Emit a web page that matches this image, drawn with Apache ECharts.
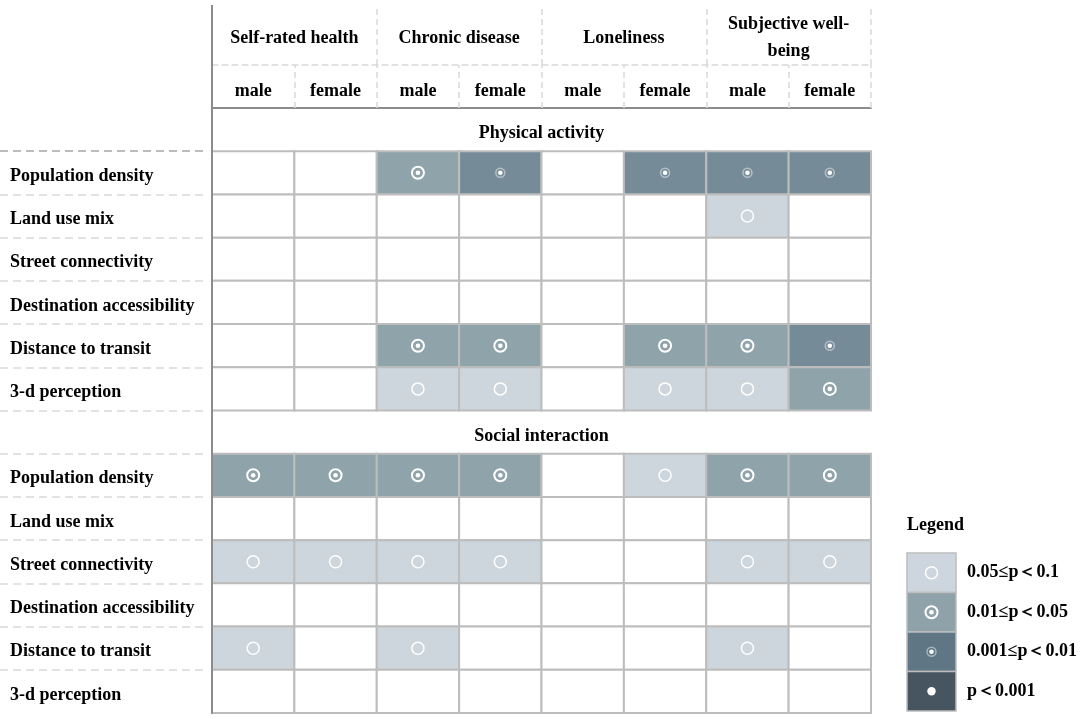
<!DOCTYPE html>
<html>
<head>
<meta charset="UTF-8">
<title>Built environment and health by gender</title>
<script src="https://cdn.jsdelivr.net/npm/echarts/dist/echarts.min.js"></script>
<style>
  html, body { margin: 0; padding: 0; background: #fff; }
  #main { width: 1084px; height: 719px; }
</style>
</head>
<body>
<div id="main"></div>
<script type="text/javascript">
// columns of the table (gender within each outcome)
var columns = ['male', 'female', 'male', 'female', 'male', 'female', 'male', 'female'];
var outcomes = ['Self-rated health', 'Chronic disease', 'Loneliness', 'Subjective well-\nbeing'];
var bands = ['Physical activity', 'Social interaction'];
var factors = ['Population density', 'Land use mix', 'Street connectivity',
  'Destination accessibility', 'Distance to transit', '3-d perception'];

// significance level per cell: 0 none, 1 0.05-0.1, 2 0.01-0.05, 3 0.001-0.01, 4 <0.001
var physical = [
  [0, 0, 2, 3, 0, 3, 3, 3],
  [0, 0, 0, 0, 0, 0, 1, 0],
  [0, 0, 0, 0, 0, 0, 0, 0],
  [0, 0, 0, 0, 0, 0, 0, 0],
  [0, 0, 2, 2, 0, 2, 2, 3],
  [0, 0, 1, 1, 0, 1, 1, 2]
];
var social = [
  [2, 2, 2, 2, 0, 1, 2, 2],
  [0, 0, 0, 0, 0, 0, 0, 0],
  [1, 1, 1, 1, 0, 0, 1, 1],
  [0, 0, 0, 0, 0, 0, 0, 0],
  [1, 0, 1, 0, 0, 0, 1, 0],
  [0, 0, 0, 0, 0, 0, 0, 0]
];
var legendLabels = ['0.05≤p＜0.1', '0.01≤p＜0.05', '0.001≤p＜0.01', 'p＜0.001'];
var legendLevels = [1, 2, 3, 4];

var cellColors = ['#ffffff', '#cdd6dd', '#8fa3aa', '#768b98', '#46555f'];
var legendColors = ['#ffffff', '#cdd6de', '#8fa2a9', '#5f7684', '#46555f'];
var FONT = '"Liberation Serif", "Times New Roman", serif';

// rows of the table: band header then the six factors, twice
var rows = [''].concat(factors, [''], factors);

var cells = [];
[physical, social].forEach(function (block, b) {
  block.forEach(function (row, r) {
    row.forEach(function (lv, c) {
      cells.push([c, b * (factors.length + 1) + r + 1, lv]);
    });
  });
});
var bandRows = bands.map(function (name, b) { return [0, b * (factors.length + 1)]; });
var legendData = legendLevels.map(function (lv, i) { return [0, i, lv]; });

function marker(lv, x, y) {
  if (lv === 1) {
    return [{ type: 'circle', shape: { cx: x, cy: y, r: 6 }, style: { fill: 'none', stroke: '#fff', lineWidth: 1.5 } }];
  }
  if (lv === 2) {
    return [
      { type: 'circle', shape: { cx: x, cy: y, r: 6 }, style: { fill: 'none', stroke: '#fff', lineWidth: 2 } },
      { type: 'circle', shape: { cx: x, cy: y, r: 2.3 }, style: { fill: '#fff' } }
    ];
  }
  if (lv === 3) {
    return [
      { type: 'circle', shape: { cx: x, cy: y, r: 4.5 }, style: { fill: 'none', stroke: 'rgba(255,255,255,0.45)', lineWidth: 1.5 } },
      { type: 'circle', shape: { cx: x, cy: y, r: 2.3 }, style: { fill: '#fff' } }
    ];
  }
  if (lv === 4) {
    return [{ type: 'circle', shape: { cx: x, cy: y, r: 4.2 }, style: { fill: '#fff' } }];
  }
  return [];
}

function cellRenderer(colors, lineWidth) {
  return function (params, api) {
    var p = api.coord([api.value(0), api.value(1)]);
    var s = api.size([1, 1]);
    var lv = api.value(2);
    var rect = {
      type: 'rect',
      shape: { x: p[0] - s[0] / 2, y: p[1] - s[1] / 2, width: s[0], height: s[1] },
      style: { fill: colors[lv], stroke: '#bdbdbd', lineWidth: lineWidth }
    };
    return { type: 'group', children: [rect].concat(marker(lv, p[0], p[1])) };
  };
}

var labelStyle = { color: '#000', fontFamily: FONT, fontWeight: 'bold', fontSize: 18 };

var myChart = echarts.init(document.getElementById('main'));
var option = {
  animation: false,
  backgroundColor: '#fff',
  title: {
    text: 'Legend', left: 907, top: 516, padding: 0,
    textStyle: { color: '#000', fontFamily: FONT, fontWeight: 'bold', fontSize: 18 }
  },
  grid: [
    { left: 212, right: 213, top: 108, bottom: 6, outerBoundsMode: 'none' },
    { left: 0, width: 205, top: 108, bottom: 6, outerBoundsMode: 'none' },
    { left: 907, width: 49, top: 553, height: 158, outerBoundsMode: 'none' }
  ],
  graphic: [{
    type: 'line', z: 100, silent: true,
    shape: { x1: 212, y1: 5, x2: 212, y2: 108 },
    style: { stroke: '#8c8c8c', lineWidth: 2 }
  }],
  xAxis: [
    {
      gridIndex: 0, type: 'category', position: 'top', data: columns, z: 10,
      axisLine: { show: true, lineStyle: { color: '#8c8c8c', width: 2 } },
      axisTick: { show: true, length: 43, lineStyle: { color: '#d9d9d9', width: 1.5, type: [6, 4] } },
      axisLabel: Object.assign({ interval: 0, margin: 17, verticalAlign: 'middle' }, labelStyle),
      splitLine: { show: false }
    },
    {
      gridIndex: 0, type: 'category', position: 'top', offset: 43, data: outcomes,
      axisLine: { show: true, lineStyle: { color: '#d9d9d9', width: 1.5, type: [6, 4] } },
      axisTick: { show: true, length: 60, lineStyle: { color: '#d9d9d9', width: 1.5, type: [6, 4] } },
      axisLabel: Object.assign({ interval: 0, margin: 27, verticalAlign: 'middle', lineHeight: 27 }, labelStyle),
      splitLine: { show: false }
    },
    { gridIndex: 1, type: 'value', show: false },
    { gridIndex: 2, type: 'category', data: [''], show: false }
  ],
  yAxis: [
    {
      gridIndex: 0, type: 'category', inverse: true, data: rows, z: 10,
      axisLine: { show: true, lineStyle: { color: '#8c8c8c', width: 2 } },
      axisTick: { show: false },
      axisLabel: {
        interval: 0, margin: 202, align: 'left',
        formatter: function (v) { return v ? '{t|' + v + '}' : ''; },
        rich: { t: Object.assign({ padding: [7, 0, 0, 0] }, labelStyle) }
      },
      splitLine: { show: false }
    },
    {
      gridIndex: 1, type: 'category', inverse: true, data: rows,
      axisLine: { show: false }, axisTick: { show: false }, axisLabel: { show: false },
      splitLine: {
        show: true, showMinLine: false, showMaxLine: false,
        lineStyle: {
          type: [8, 5], width: 1.5,
          color: ['#a6a6a6', '#d9d9d9', '#d9d9d9', '#d9d9d9', '#d9d9d9', '#d9d9d9', '#d9d9d9',
            '#d9d9d9', '#d9d9d9', '#d9d9d9', '#d9d9d9', '#d9d9d9', '#d9d9d9']
        }
      }
    },
    {
      gridIndex: 2, type: 'category', inverse: true, data: legendLabels, position: 'right',
      axisLine: { show: false }, axisTick: { show: false },
      axisLabel: Object.assign({ interval: 0, margin: 11 }, labelStyle),
      splitLine: { show: false }
    }
  ],
  series: [
    {
      type: 'custom', xAxisIndex: 0, yAxisIndex: 0, silent: true,
      encode: { x: 0, y: 1 },
      renderItem: cellRenderer(cellColors, 2),
      data: cells
    },
    {
      type: 'custom', xAxisIndex: 0, yAxisIndex: 0, silent: true,
      encode: { x: 0, y: 1 },
      renderItem: function (params, api) {
        var p = api.coord([0, api.value(1)]);
        var s = api.size([1, 1]);
        var left = p[0] - s[0] / 2;
        return {
          type: 'text',
          style: {
            text: bands[params.dataIndex],
            x: left + s[0] * columns.length / 2, y: p[1] + 4,
            align: 'center', verticalAlign: 'middle',
            font: 'bold 18px ' + FONT, fill: '#000'
          }
        };
      },
      data: bandRows
    },
    {
      type: 'custom', xAxisIndex: 3, yAxisIndex: 2, silent: true,
      encode: { x: 0, y: 1 },
      renderItem: cellRenderer(legendColors, 1.5),
      data: legendData
    }
  ]
};
myChart.setOption(option);
</script>
</body>
</html>
